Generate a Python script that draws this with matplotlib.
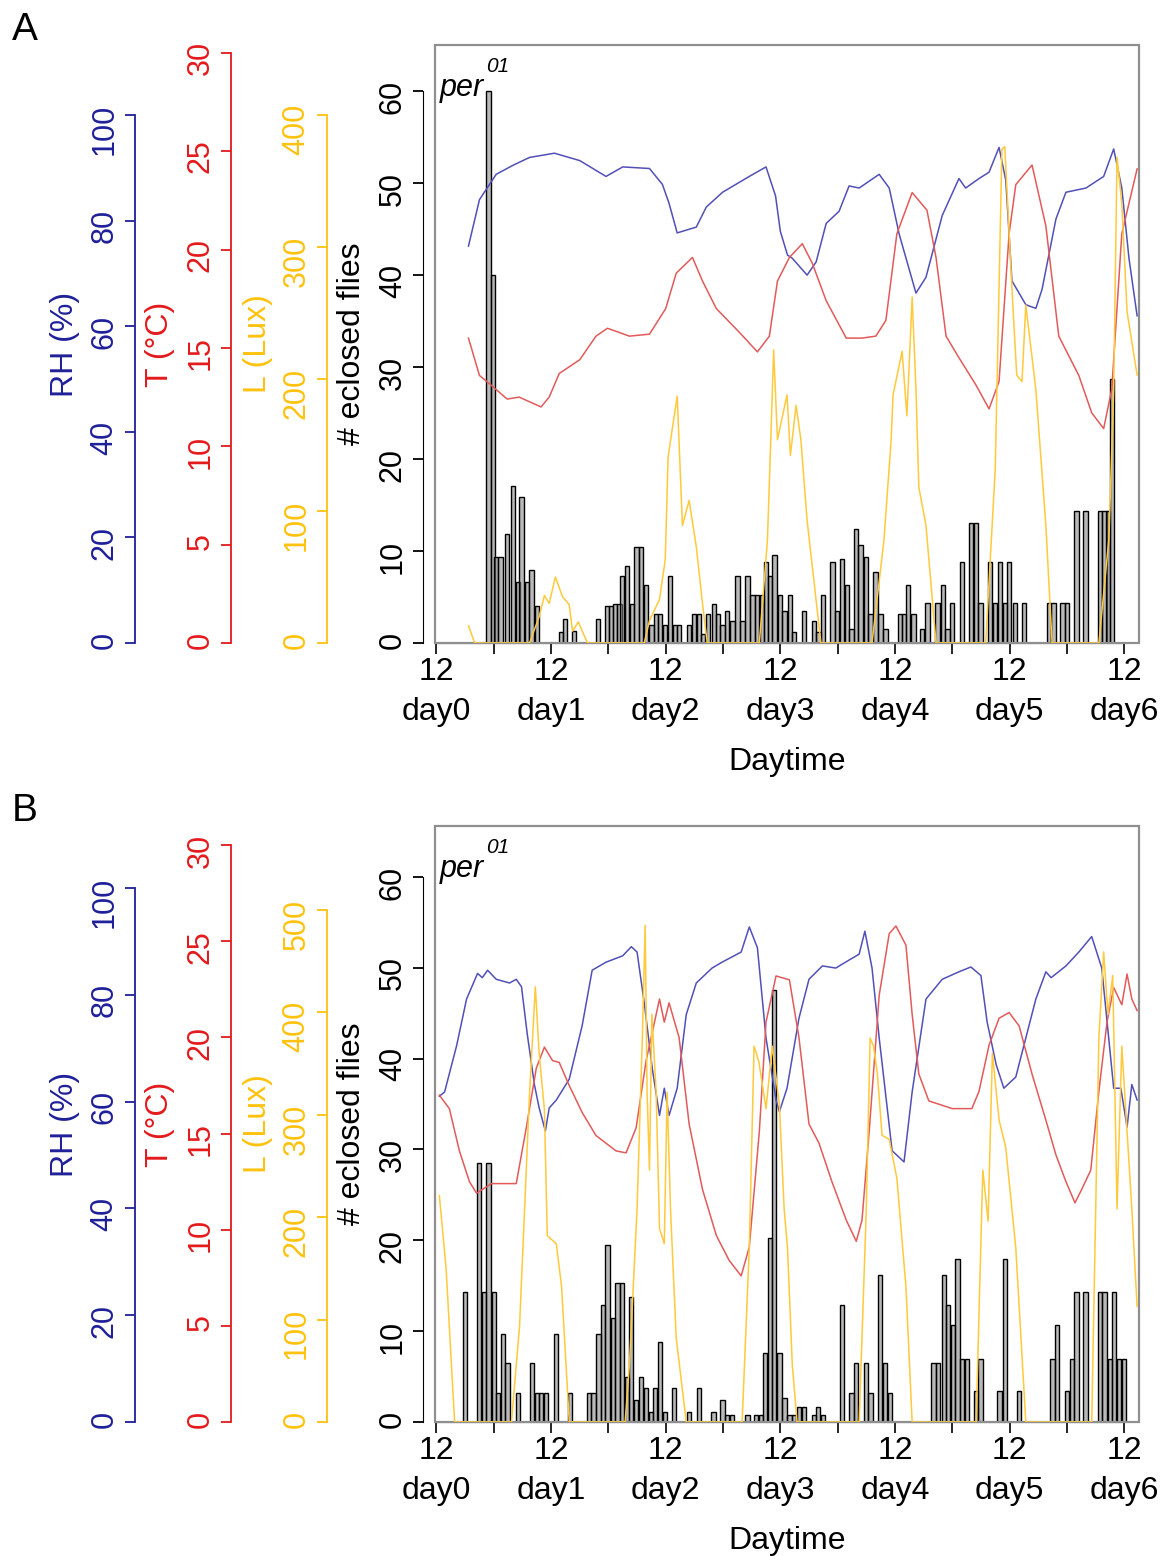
import matplotlib
matplotlib.use('Agg')
import matplotlib.pyplot as plt
from matplotlib.patches import Rectangle

plt.rcParams['font.family'] = ['Liberation Sans', 'DejaVu Sans']

# all times are hours after noon of day0

# ---------------- panel A ----------------
rhHoursA = [6.7, 9, 12.5, 16, 19.5, 24.7, 30, 35.5, 39, 44.6, 47.3, 48.7, 50.4, 54.4, 56.5, 59.9,
            65.5, 69, 71, 72, 73.5, 74.5, 77.6, 79.5, 81.6, 84.3, 86.4, 88.5, 92.7, 94.8, 96.9,
            100.4, 102.5, 105.9, 109.4, 110.8, 113.6, 115.7, 117.8, 119.2, 120.5, 123.4, 125.5,
            126.8, 129.7, 131.8, 136, 139.7, 141.8, 143.5, 145, 146.7]
rhA = [75.2, 84, 88.8, 90.5, 92, 92.8, 91.4, 88.4, 90.2, 89.9, 86.9, 83.3, 77.7, 78.8, 82.6, 85.4,
       88.4, 90.2, 84.7, 78, 73.5, 72.9, 69.7, 72.2, 79.5, 81.8, 86.6, 86.2, 88.8, 86.2, 77.4,
       66.3, 69.3, 81, 88, 86.2, 88, 89.2, 93.9, 87.7, 68.6, 64.1, 63.4,
       67, 80.3, 85.4, 86.2, 88.4, 93.6, 86.2, 72.9, 62]

tHoursA = [6.7, 9, 11, 14.8, 17.3, 21.9, 23.6, 25.7, 30, 33.4, 35.8, 40.4, 44.6, 48, 50.2, 53.6,
           55.7, 58.6, 63.4, 67.2, 69.7, 71.4, 73.9, 76.6, 78.7, 81.6, 85.8, 89.1, 92, 94.1, 96.4,
           99.6, 102.7, 104.6, 106.7, 109.4, 113, 115.7, 117.8, 119.9, 121.3, 124.7, 127.6, 130.3,
           134.5, 137.2, 139.7, 141.4, 143.5, 146.7]
tA = [15.5, 13.6, 13.2, 12.4, 12.5, 12.0, 12.5, 13.7, 14.4, 15.6, 16.0, 15.6, 15.7, 17.0, 18.8, 19.6,
      18.4, 17.0, 15.8, 14.8, 15.6, 18.4, 19.6, 20.3, 19.3, 17.4, 15.5, 15.5, 15.6, 16.4, 20.8,
      22.9, 22.0, 19.6, 15.6, 14.5, 13.1, 11.9, 13.3, 20.8, 23.3, 24.3, 21.2, 15.6,
      13.6, 11.7, 10.9, 12.9, 20.8, 24.1]

lHoursA = [6.7, 8, 19.5, 21.5, 22.6, 23.6, 24.9, 26.4, 27.8, 28.5, 29.7, 31.6, 43.5, 44.6, 46.7,
           47.9, 48.5, 50.4, 51.5, 52.9, 54.4, 55.7, 56.7, 67.6, 69.3, 70, 70.6, 71.4, 73.4, 74.1,
           75.3, 76.3, 77.6, 80.5, 91.2, 93.7, 95.2, 95.6, 97.5, 98.5, 99.6, 100.4, 101, 102.5,
           104.6, 115, 117, 118.4, 119, 120.5, 121.5, 122.6, 123.4, 125.5, 127.6, 128.9, 138.7,
           140.8, 141.8, 142.5, 143.5, 144.6, 146.7]
lA = [13, 0, 0, 20, 36, 30, 50, 35, 29, 9, 16, 0, 0, 17, 33,
      63, 141, 187, 89, 108, 73, 30, 0, 0, 78, 154, 222, 154, 188, 142,
      180, 154, 93, 0, 0, 78, 154, 188, 221, 172, 262, 192, 118, 89,
      0, 0, 132, 374, 376, 268, 203, 198, 256, 192, 89, 0, 0,
      79, 192, 368, 333, 251, 203]

barHoursA = [10.9, 11.8, 12.5, 13.4, 14.8, 16.0, 17.0, 17.8, 18.9, 19.9, 21.0, 26.0, 26.9, 28.8,
             33.8, 35.7, 36.6, 37.4, 38.3, 38.9, 39.9, 40.9, 41.9, 42.8, 43.9, 45.0, 45.9, 46.8,
             47.9, 48.9, 49.9, 50.8, 52.9, 53.9, 54.9, 55.8, 56.9, 58.1, 59.0, 59.9, 60.9, 62.0,
             63.0, 64.1, 65.1, 66.2, 67.1, 68.1, 69.0, 69.9, 70.8, 71.9, 72.9, 74.0, 74.9, 77.0,
             79.1, 80.0, 80.9, 82.9, 83.9, 84.9, 86.0, 86.9, 87.8, 88.8, 89.9, 90.9, 91.9, 93.0,
             94.0, 97.0, 97.9, 98.8, 99.9, 101.6, 102.8, 104.9, 106.0, 107.0, 108.0, 110.0, 111.9,
             113.0, 113.9, 115.9, 117.0, 118.0, 119.0, 119.9, 121.1, 123.0, 128.3, 129.2, 131.1,
             132.0, 134.0, 135.9, 138.9, 139.9, 140.6, 141.4]
barCountsA = [60, 40, 9.3, 9.3, 11.8, 17.1, 6.6, 15.9, 6.6, 7.9, 4.0, 1.2, 2.6, 1.3,
              2.6, 4.0, 4.0, 4.2, 4.2, 7.3, 8.4, 4.2, 10.4, 10.4, 6.3, 2.0, 3.1, 3.1,
              2.0, 7.3, 2.0, 2.0, 2.0, 3.1, 3.1, 1.0, 3.1, 4.2, 3.1, 2.0, 3.5, 2.4,
              7.3, 2.4, 7.3, 5.2, 5.2, 5.2, 8.8, 7.3, 9.6, 5.2, 3.5, 5.2, 1.2, 3.5,
              2.4, 1.2, 5.2, 8.8, 3.5, 9.1, 6.3, 1.5, 12.4, 10.7, 9.3, 3.1, 7.7, 3.1,
              1.5, 3.1, 3.1, 6.3, 3.1, 1.5, 4.4, 4.4, 6.3, 1.5, 4.4, 8.8, 13.0,
              13.0, 4.4, 8.8, 4.4, 8.8, 4.4, 8.8, 4.4, 4.4, 4.4, 4.4, 4.4,
              4.4, 14.3, 14.3, 14.3, 14.3, 14.3, 28.7]

# ---------------- panel B ----------------
rhHoursB = [0.6, 1.7, 4.2, 6.3, 8.6, 9.6, 10.7, 12.5, 15.3, 16.7, 17.8, 19, 20.5, 21.5, 22.8, 23.6,
            25.1, 27.8, 30.5, 32.6, 35.5, 39, 40.8, 42, 43.5, 45.2, 46.7, 47.7, 48.7, 50.4, 52.3,
            54.4, 57.7, 59.8, 63.8, 65.5, 67.2, 69, 71.1, 71.8, 73.4, 75.9, 78, 80.8, 83.6, 86.4,
            88.5, 89.7, 91.2, 92.7, 95.4, 97.9, 99.6, 102.5, 105.9, 109.4, 111.9, 114, 115.3,
            117.2, 118.8, 121.3, 123.4, 125.5, 127.6, 128.7, 131.8, 134.5, 137.2, 139.3, 141.8,
            143.3, 144.6, 145.6, 146.7]
rhB = [61, 61.8, 70.4, 79.2, 84, 83.2, 84.6, 82.9, 82.2, 82.9, 81.5, 72.7, 63.2, 58.8, 54.5, 58.8,
       60.3, 64.2, 74.2, 84.6, 86.1, 87.3, 89, 88, 78.5, 66.1, 57.4, 62.5, 57.4, 62.5, 76.3,
       82.2, 85, 86.1, 88, 92.7, 88.8, 71.9, 60.3, 58.1, 62.5, 75.6, 82.9, 85.4, 85, 86.5,
       87.6, 91.9, 85, 71.9, 50.8, 48.7, 61.8, 79.2, 82.9, 84.3, 85.2, 83.6, 74.9,
       66.9, 62.5, 64.6, 71.9, 79.2, 84.3, 83.2, 85.4, 88, 90.9, 85, 62.5,
       62.5, 55.2, 63.2, 60.3]

tHoursB = [0.6, 2.7, 4.8, 6.9, 8.4, 11.5, 16.7, 18.8, 20.9, 22.6, 24.3, 25.7, 27.8, 30.5, 33.4,
           37.6, 39.7, 41.8, 43.9, 46.7, 47.7, 48.7, 50.8, 52.9, 55.7, 58.6, 61.3, 63.8, 65.5,
           67.6, 69, 71.1, 73.9, 75.9, 78, 80.1, 82.8, 85.8, 87.9, 89.1, 90.6, 92.7, 94.8, 96.2,
           98.3, 99.6, 101, 103.1, 108, 112.1, 113.6, 115.7, 117.8, 119.9, 122, 124.7, 127.6,
           129.7, 131.8, 133.7, 135.1, 137, 138.7, 140.4, 141.8, 143.5, 144.6, 145.6, 146.7]
tB = [17, 16.3, 14.1, 12.5, 11.9, 12.4, 12.4, 15.3, 18.4, 19.5, 18.8, 18.7, 17.5, 16.1, 14.9,
      14.1, 14.0, 15.3, 18.8, 22, 20.8, 21.8, 20, 15.5, 12.1, 9.7, 8.4, 7.6, 9.1,
      15.1, 20.8, 23.2, 23, 20, 15.5, 14.5, 12.5, 10.5, 9.4, 10.5, 15.1, 22.2, 25.4, 25.8,
      24.8, 21.2, 18.1, 16.7, 16.3, 16.3, 17.2, 19.6, 21, 21.3, 20.6, 18.1, 15.7,
      13.9, 12.5, 11.4, 12.1, 13.1, 17.2, 20.8, 22.6, 21.7, 23.3, 22, 21.4]

lHoursB = [0.6, 2, 3.8, 15.7, 17.4, 19.5, 20.7, 21.5, 22.6, 23.2, 25.1, 26.2, 27.8, 39.5, 40.4,
           42, 43.1, 43.7, 44.1, 44.6, 45.1, 46, 46.7, 47.7, 48.3, 49, 50.2, 52.3, 64, 65.5,
           66.5, 67.5, 69, 70.3, 71.8, 72.8, 73.5, 74.5, 75.5, 88.5, 90, 90.8, 91.5, 92.3, 93.3,
           94.8, 96.4, 98.3, 99.6, 113, 114.4, 115.5, 116.4, 117.8, 119.2, 121.3, 123.4, 137.2,
           138.7, 139.7, 140.6, 141.6, 142.5, 143.5, 144.6, 145.6, 146.7]
lB = [221, 151, 0, 0, 94, 322, 425, 360, 305, 182, 174, 132, 0, 0, 56,
      208, 375, 485, 322, 246, 398, 322, 189, 174, 322, 208, 82, 0, 0, 170,
      367, 352, 306, 367, 310, 208, 170, 56, 0, 0, 208, 375, 367, 341, 280,
      276, 238, 132, 0, 0, 246, 196, 360, 295, 268, 170, 0, 0,
      375, 459, 398, 436, 208, 367, 284, 208, 113]

barHoursB = [5.9, 8.9, 9.9, 10.9, 12.0, 12.9, 14.0, 14.9, 17.1, 20.0, 21.0, 21.9, 23.0, 25.0, 27.9,
             32.0, 32.9, 33.9, 34.8, 35.8, 36.9, 37.9, 38.8, 39.9, 40.8, 41.8, 42.8, 43.9, 44.9,
             45.8, 46.8, 47.8, 49.8, 52.9, 54.9, 58.0, 59.9, 60.9, 61.9, 65.1, 66.9, 67.9, 68.8,
             69.8, 70.7, 71.8, 72.9, 73.9, 74.9, 75.9, 76.9, 79.1, 79.9, 81.0, 84.9, 86.9, 87.9,
             89.9, 90.9, 92.9, 93.9, 94.9, 104.1, 105.0, 106.2, 107.1, 108.1, 109.1, 110.0, 111.1,
             112.9, 113.9, 117.9, 119.0, 121.9, 129.0, 129.9, 132.0, 133.0, 134.0, 135.9, 138.9,
             139.9, 141.0, 141.9, 142.9, 143.9]
barCountsB = [14.3, 28.5, 14.3, 28.5, 14.3, 3.2, 9.7, 6.5, 3.2, 6.5, 3.2, 3.2, 3.2, 9.7, 3.2,
              3.2, 3.2, 9.7, 12.9, 19.5, 11.5, 15.3, 15.3, 4.9, 13.8, 2.4, 4.9, 3.7, 1.1,
              3.7, 8.8, 1.1, 3.7, 1.1, 3.7, 1.1, 2.4, 0.8, 0.8, 0.8, 0.8, 0.8, 7.6,
              20.3, 47.5, 7.6, 2.6, 0.8, 0.8, 1.6, 1.6, 0.8, 1.6, 0.8, 12.9, 3.2, 6.5,
              6.5, 3.2, 16.2, 6.5, 3.2, 6.5, 6.5, 16.2, 12.9, 10.7, 17.9, 6.9, 6.9,
              3.4, 6.9, 3.4, 17.9, 3.4, 6.9, 10.7, 3.4, 6.9, 14.3, 14.3, 14.3,
              14.3, 6.9, 14.3, 6.9, 6.9]

dayLabels = ['12\nday%d' % d for d in range(7)]

blueAxis, redAxis, yellowAxis = '#1f1f99', '#e31a1c', '#ffc20e'
blueLine, redLine, yellowLine = '#5050b8', '#e25a5a', '#ffc93c'

fig = plt.figure(figsize=(11.66, 15.56), dpi=100)
W, H = 1166.0, 1556.0
boxL, boxR = 435, 1139


def addScale(ax, pos, top, ticks, color, label, labelX):
    tw = ax.twinx()
    tw.set_ylim(0, top)
    for s in tw.spines.values():
        s.set_visible(False)
    sp = tw.spines['left']
    sp.set_visible(True)
    sp.set_position(('axes', pos))
    sp.set_bounds(ticks[0], ticks[-1])
    sp.set_color(color)
    sp.set_linewidth(1.3)
    tw.yaxis.set_ticks_position('left')
    tw.yaxis.set_label_position('left')
    tw.set_yticks(ticks)
    tw.tick_params(axis='y', colors=color, labelsize=22, length=7, width=1.3,
                   labelrotation=90, pad=4)
    tw.set_ylabel(label, color=color, fontsize=23)
    tw.yaxis.set_label_coords(labelX, 0.5)
    return tw


def drawPanel(top, bottom, letter, barHours, barCounts, rhHours, rh, tHours, t,
              lHours, l, fliesTop, rhTop, tTop, lTop, lTicks):
    ax = fig.add_axes([boxL / W, 1 - bottom / H, (boxR - boxL) / W, (bottom - top) / H])
    axW = boxR - boxL
    ax.set_xlim(-0.31, 147.1)
    ax.set_ylim(0, fliesTop)
    ax.bar(barHours, barCounts, width=0.9, color=(0.5, 0.5, 0.5, 0.55),
           edgecolor='black', linewidth=1.0, zorder=2)

    ax.spines['top'].set_visible(False)
    ax.spines['right'].set_visible(False)
    ax.spines['left'].set_position(('outward', 8.6))
    ax.spines['left'].set_bounds(0, 60)
    ax.spines['bottom'].set_bounds(0, 144)
    ax.add_patch(Rectangle((0, 0), 1, 1, transform=ax.transAxes, fill=False,
                           edgecolor='#8f8f8f', linewidth=1.6, clip_on=False, zorder=5))
    ax.set_yticks(range(0, 61, 10))
    ax.tick_params(axis='y', labelsize=22, length=7, width=1.3, labelrotation=90, pad=4)
    ax.set_ylabel('# eclosed flies', fontsize=23)
    ax.yaxis.set_label_coords((367 - boxL) / axW, 0.5)

    ax.set_xticks(range(0, 145, 24))
    ax.set_xticklabels(dayLabels)
    ax.set_xticks(range(12, 145, 24), minor=True)
    ax.tick_params(axis='x', which='both', length=8, width=1.2, labelsize=23, pad=2)
    for lab in ax.get_xticklabels():
        lab.set_linespacing(1.45)
    ax.set_xlabel('Daytime', fontsize=23, labelpad=14)

    twRH = addScale(ax, (135 - boxL) / axW, rhTop, list(range(0, 101, 20)), blueAxis,
                    'RH (%)', (80 - boxL) / axW)
    twT = addScale(ax, (231 - boxL) / axW, tTop, list(range(0, 31, 5)), redAxis,
                   'T (°C)', (175 - boxL) / axW)
    twL = addScale(ax, (327 - boxL) / axW, lTop, lTicks, yellowAxis,
                   'L (Lux)', (273 - boxL) / axW)
    twL.plot(lHours, l, color=yellowLine, linewidth=1.1)
    twT.plot(tHours, t, color=redLine, linewidth=1.1)
    twRH.plot(rhHours, rh, color=blueLine, linewidth=1.1)

    ax.text(0.007, 0.915, 'per', transform=ax.transAxes, fontsize=22, style='italic',
            ha='left', va='baseline')
    ax.text(0.073, 0.955, '01', transform=ax.transAxes, fontsize=15, style='italic',
            ha='left', va='baseline')
    fig.text(12 / W, 1 - (top - 15) / H, letter, fontsize=28, ha='left', va='center')
    return ax


drawPanel(45, 643, 'A', barHoursA, barCountsA, rhHoursA, rhA, tHoursA, tA, lHoursA, lA,
          65.0, 113.3, 30.4, 453, list(range(0, 401, 100)))
drawPanel(826, 1422, 'B', barHoursB, barCountsB, rhHoursB, rhB, tHoursB, tB, lHoursB, lB,
          65.6, 111.6, 31.0, 582, list(range(0, 501, 100)))

fig.savefig('out.png', dpi=100)
